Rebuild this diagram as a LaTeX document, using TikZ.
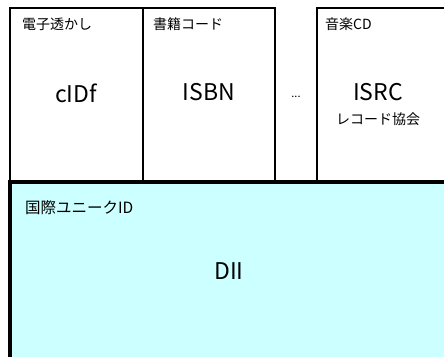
\documentclass[tikz,border=0pt]{standalone}
\usepackage{fontspec}
\setmainfont{Noto Sans CJK JP}
\usepackage{xcolor}
\usetikzlibrary{positioning}
\definecolor{diifill}{HTML}{CCFFFF}

\begin{document}
\begin{tikzpicture}[x=1pt, y=-1pt,
    tagtext/.style={anchor=west, inner sep=0pt, font=\fontsize{14}{16}\selectfont},
    idtext/.style={inner sep=0pt, font=\fontsize{23}{26}\selectfont},
    subtext/.style={inner sep=0pt, font=\fontsize{14}{16}\selectfont}]
    \clip (0,0) rectangle (444,356);

    % top row of ID schemes
    \draw[line width=1.2pt] (10,8) rectangle (143,190);
    \draw[line width=1.2pt] (143,8) rectangle (275,190);
    \draw[line width=1.2pt] (317,8) rectangle (460,190);

    % DII base
    \draw[line width=4pt, fill=diifill] (10,182) rectangle (460,380);

    \node[tagtext] (wm) at (22,24) {電子透かし};
    \node[tagtext] (book) at (153,24) {書籍コード};
    \node[tagtext] (cd) at (325,24) {音楽CD};
    \node[idtext] (cidf) at (76,93) {cIDf};
    \node[idtext] (isbn) at (209,92) {ISBN};
    \node[inner sep=0pt, font=\fontsize{11}{12}\selectfont] (dots) at (296,97) {...};
    \node[idtext] (isrc) at (378,92) {ISRC};
    \node[subtext, below=12pt of isrc] (riaj) {レコード協会};

    \node[tagtext, font=\fontsize{15.5}{17}\selectfont] (uid) at (25,208) {国際ユニークID};
    \node[idtext] (dii) at (229,271) {DII};
\end{tikzpicture}
\end{document}
